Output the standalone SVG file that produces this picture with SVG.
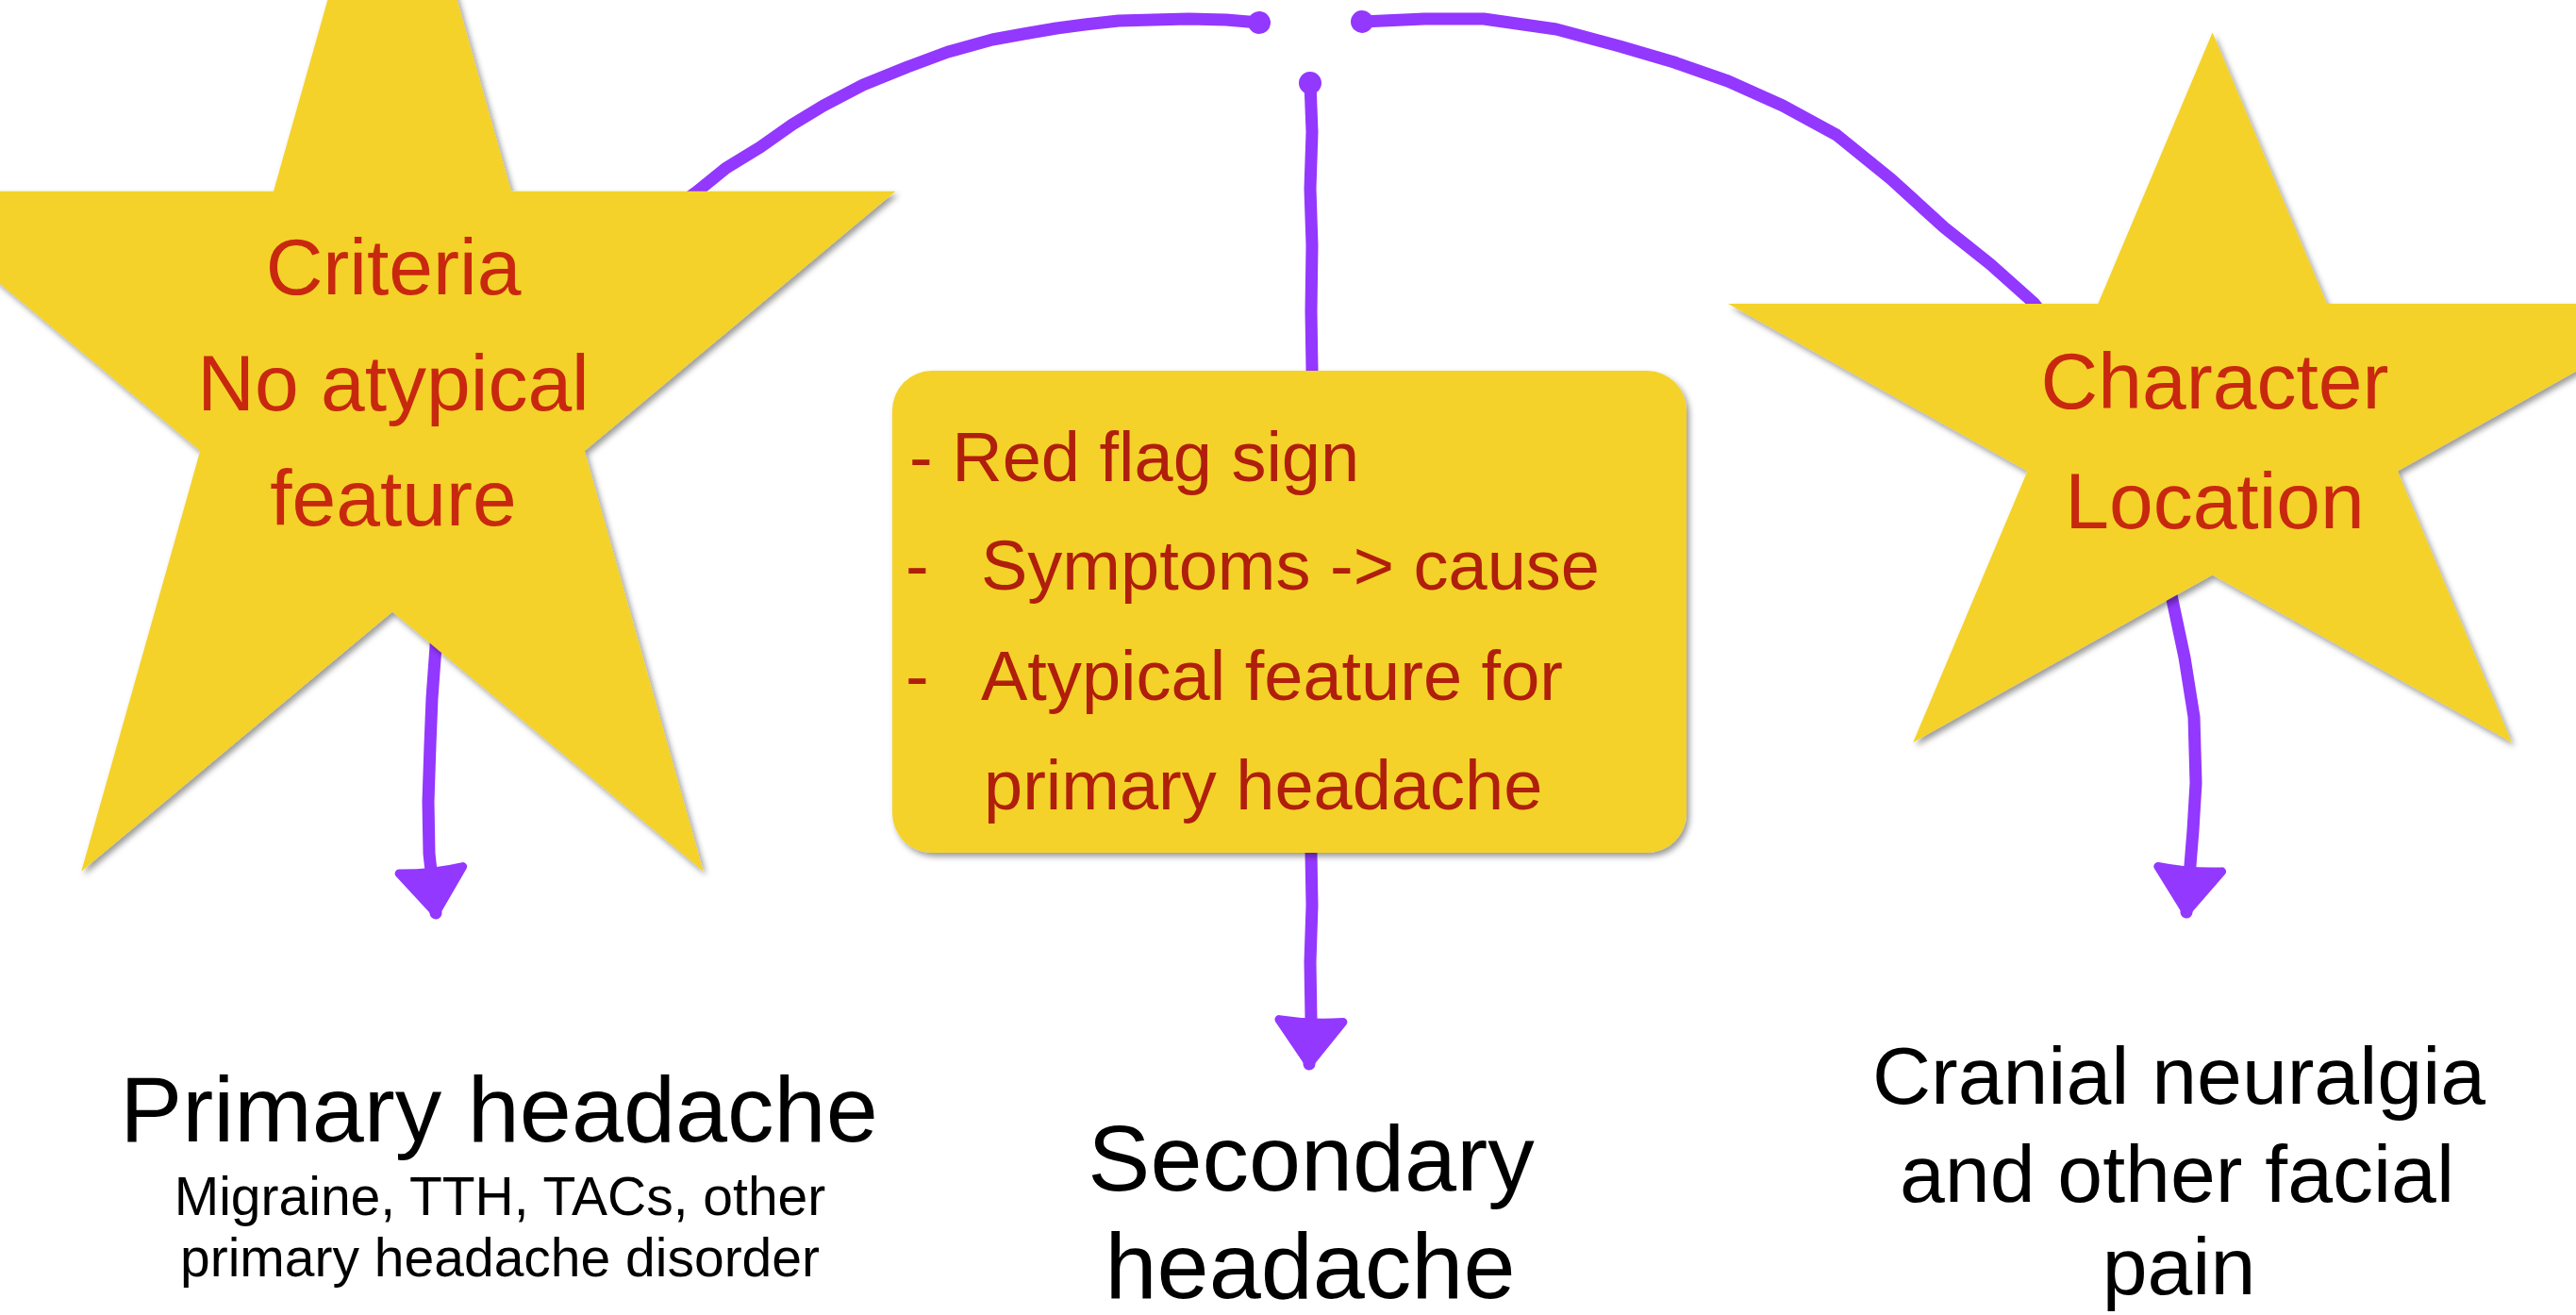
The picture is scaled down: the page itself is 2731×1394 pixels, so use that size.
<svg xmlns="http://www.w3.org/2000/svg" width="2731" height="1394" viewBox="0 0 2731 1394">
  <defs>
    <filter id="shadow" x="-10%" y="-10%" width="120%" height="120%">
      <feDropShadow dx="3" dy="4" stdDeviation="3" flood-color="#000000" flood-opacity="0.4"/>
    </filter>
    <marker id="arrow" viewBox="-60 -44 68 88" refX="0" refY="0" markerWidth="68" markerHeight="88" markerUnits="userSpaceOnUse" orient="auto">
      <path d="M-46,-34 Q-42,0 -46,34 L0,0 Z" fill="#9338FF" stroke="#9338FF" stroke-width="9" stroke-linejoin="round"/>
    </marker>
    <marker id="dot" viewBox="-13 -13 26 26" refX="0" refY="0" markerWidth="26" markerHeight="26" markerUnits="userSpaceOnUse" orient="auto">
      <circle cx="0" cy="0" r="12" fill="#9338FF"/>
    </marker>
  </defs>
  <style>
    .conn { fill: none; stroke: #9338FF; stroke-width: 13; stroke-linecap: round; stroke-linejoin: round; marker-start: url(#dot); marker-end: url(#arrow); }
    .shape { fill: #F4D22B; filter: url(#shadow); }
    .star-text { font-family: "Liberation Sans", Arial, sans-serif; font-size: 84px; fill: #C8280E; text-anchor: middle; }
    .box-text { font-family: "Liberation Sans", Arial, sans-serif; font-size: 74px; fill: #B01E0C; }
    .label { font-family: "Liberation Sans", Arial, sans-serif; fill: #000000; text-anchor: middle; }
  </style>
  <rect x="0" y="0" width="2731" height="1394" fill="#FFFFFF"/>

  <g id="connectors">
    <path id="conn-primary" class="conn" d="M1335,24 L1300,21 L1260,20 L1222,21 L1186,22 L1150,26 L1120,30 L1085,36 L1052,42 L1005,55 L962,71 L915,90 L873,112 L840,132 L806,156 L770,178 L739,203 C650,265 540,380 490,500 C470,560 462,620 462,685 L458,740 L456,790 L454,850 L455,905 L462,968"/>
    <path id="conn-secondary" class="conn" d="M1389,88 L1391,140 L1389,200 L1391,260 L1390,330 L1391,392 L1390,904 L1391,960 L1389,1020 L1390,1080 L1388,1128"/>
    <path id="conn-cranial" class="conn" d="M1444,23 L1510,20 L1573,20 L1650,31 L1717,49 L1775,66 L1832,86 L1890,112 L1947,143 L2005,190 L2061,241 L2110,280 L2156,321 L2230,420 L2285,540 L2302,631 L2316,697 L2326,760 L2328,830 L2325,880 L2318,967"/>
  </g>

  <g id="node-criteria">
    <polygon class="shape" points="416,-243 542,202.7 949.5,202.7 619.8,478.1 745.8,923.8 416,648.4 86.2,923.8 212.2,478.1 -117.5,202.7 290,202.7"/>
    <text class="star-text" x="417" y="312">Criteria</text>
    <text class="star-text" x="417" y="435">No atypical</text>
    <text class="star-text" x="417" y="557">feature</text>
  </g>

  <g id="node-redflag">
    <rect class="shape" x="946" y="393" width="842" height="511" rx="42" ry="42"/>
    <text class="box-text" x="964" y="510">- Red flag sign</text>
    <text class="box-text" x="960" y="625">-</text>
    <text class="box-text" x="1040" y="625">Symptoms -&gt; cause</text>
    <text class="box-text" x="960" y="742">-</text>
    <text class="box-text" x="1040" y="742">Atypical feature for</text>
    <text class="box-text" x="1043" y="858">primary headache</text>
  </g>

  <g id="node-character">
    <polygon class="shape" points="2345.6,34.5 2466.9,321.9 2859.1,322 2541.8,499.6 2663,787 2345.6,609.4 2028.2,787 2149.4,499.6 1832.1,322 2224.3,321.9"/>
    <text class="star-text" x="2348" y="433" font-size="80">Character</text>
    <text class="star-text" x="2348" y="560" font-size="80">Location</text>
  </g>

  <g id="node-primary">
    <text class="label" x="529" y="1210" font-size="99">Primary headache</text>
    <text class="label" x="530" y="1288" font-size="57">Migraine, TTH, TACs, other</text>
    <text class="label" x="530" y="1353" font-size="57">primary headache disorder</text>
  </g>

  <g id="node-secondary">
    <text class="label" x="1390" y="1262" font-size="99">Secondary</text>
    <text class="label" x="1389" y="1376" font-size="99">headache</text>
  </g>

  <g id="node-cranial">
    <text class="label" x="2310" y="1170" font-size="86">Cranial neuralgia</text>
    <text class="label" x="2308" y="1274" font-size="86">and other facial</text>
    <text class="label" x="2310" y="1372" font-size="86">pain</text>
  </g>
</svg>
